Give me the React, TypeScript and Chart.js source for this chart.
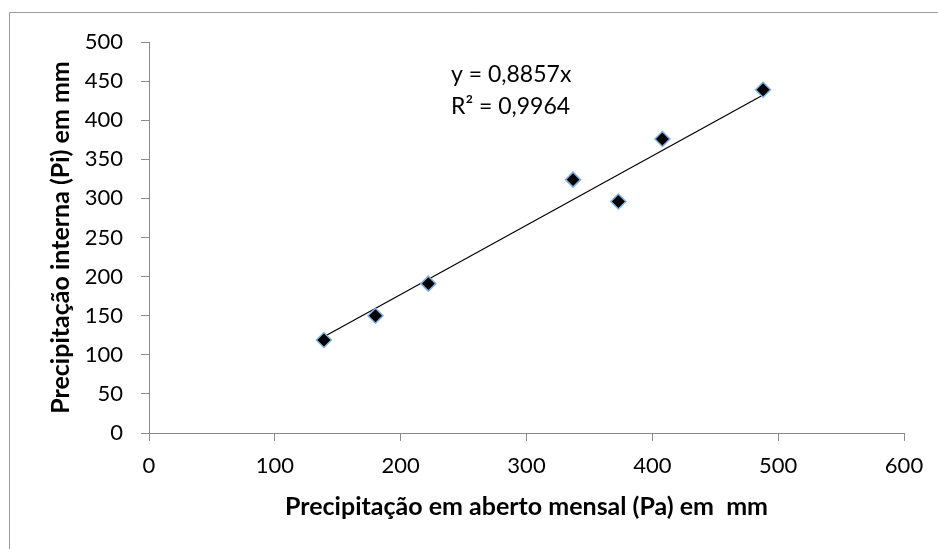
import React, { useEffect, useRef } from "react";
import { Chart, registerables } from "chart.js";

Chart.register(...registerables);

// Data
const openRain: number[] = [139, 180, 222, 337, 373, 408, 488]; // Pa (mm)
const internalRain: number[] = [119, 150, 191, 324, 296, 376, 439]; // Pi (mm)
const trendSlope = 0.8857;
const equationLines: string[] = ["y = 0,8857x", "R² = 0,9964"];
const xTitle = "Precipitação em aberto mensal (Pa) em  mm";
const yTitle = "Precipitação interna (Pi) em mm";

const FONT = "Lato, 'Open Sans', sans-serif";
const AXIS_GRAY = "#8a8a8a";

const framePlugin = {
  id: "frame",
  beforeDraw(chart: any) {
    const ctx = chart.ctx;
    ctx.save();
    ctx.fillStyle = "#ffffff";
    ctx.fillRect(0, 0, chart.width, chart.height);
    ctx.strokeStyle = "#9a9a9a";
    ctx.lineWidth = 1;
    ctx.beginPath();
    ctx.moveTo(9.5, chart.height + 2);
    ctx.lineTo(9.5, 12.5);
    ctx.lineTo(chart.width + 2, 12.5);
    ctx.stroke();
    ctx.restore();
  },
};

const equationPlugin = {
  id: "equation",
  afterDatasetsDraw(chart: any) {
    const ctx = chart.ctx;
    const xs = chart.scales.x;
    const ys = chart.scales.y;
    const x = xs.getPixelForValue(240);
    ctx.save();
    ctx.font = `23px ${FONT}`;
    ctx.fillStyle = "#000000";
    ctx.textAlign = "left";
    ctx.textBaseline = "middle";
    ctx.fillText(equationLines[0], x, ys.getPixelForValue(458));
    ctx.fillText(equationLines[1], x, ys.getPixelForValue(417));
    ctx.restore();
  },
};

export default function App() {
  const ref = useRef<HTMLCanvasElement | null>(null);

  useEffect(() => {
    if (!ref.current) return;
    const points = openRain.map((x, i) => ({ x, y: internalRain[i] }));
    const xMin = Math.min(...openRain);
    const xMax = Math.max(...openRain);
    const trend = [
      { x: xMin, y: trendSlope * xMin },
      { x: xMax, y: trendSlope * xMax },
    ];
    const chart = new Chart(ref.current, {
      type: "scatter",
      data: {
        datasets: [
          {
            label: "Pi",
            data: points,
            pointStyle: "rectRot",
            pointRadius: 7.5,
            pointBackgroundColor: "#000000",
            pointBorderColor: "#7fb0e0",
            pointBorderWidth: 1.5,
            showLine: false,
            order: 1,
          },
          {
            label: "trend",
            type: "line",
            data: trend,
            borderColor: "#000000",
            borderWidth: 1.2,
            pointRadius: 0,
            fill: false,
            order: 2,
          } as any,
        ],
      },
      options: {
        responsive: false,
        animation: false,
        layout: { padding: { top: 42, right: 34, left: 0, bottom: 0 } },
        plugins: {
          legend: { display: false },
          tooltip: { enabled: false },
        },
        scales: {
          x: {
            type: "linear",
            min: 0,
            max: 600,
            ticks: {
              stepSize: 100,
              padding: 12,
              color: "#000000",
              font: { family: FONT, size: 22 },
              maxRotation: 0,
            },
            grid: {
              display: true,
              drawOnChartArea: false,
              drawTicks: true,
              tickLength: 8,
              color: AXIS_GRAY,
            },
            border: { display: true, color: AXIS_GRAY, width: 1 },
            title: {
              display: true,
              text: xTitle,
              color: "#000000",
              font: { family: FONT, size: 25, weight: "bold" },
              padding: { top: 0, bottom: 27 },
            },
            afterFit(scale: any) {
              scale.height = 116;
            },
          },
          y: {
            type: "linear",
            min: 0,
            max: 500,
            ticks: {
              stepSize: 50,
              padding: 18,
              color: "#000000",
              font: { family: FONT, size: 22 },
            },
            grid: {
              display: true,
              drawOnChartArea: false,
              drawTicks: true,
              tickLength: 8,
              color: AXIS_GRAY,
            },
            border: { display: true, color: AXIS_GRAY, width: 1 },
            title: {
              display: true,
              text: yTitle,
              color: "#000000",
              font: { family: FONT, size: 25, weight: "bold" },
              padding: { top: 46, bottom: 0 },
            },
            afterFit(scale: any) {
              scale.width = 149;
            },
          },
        },
      },
      plugins: [framePlugin, equationPlugin],
    });
    return () => chart.destroy();
  }, []);

  return (
    <div style={{ position: "absolute", left: 0, top: 0, width: 938, height: 549 }}>
      <canvas ref={ref} width={938} height={549} style={{ display: "block" }} />
    </div>
  );
}
